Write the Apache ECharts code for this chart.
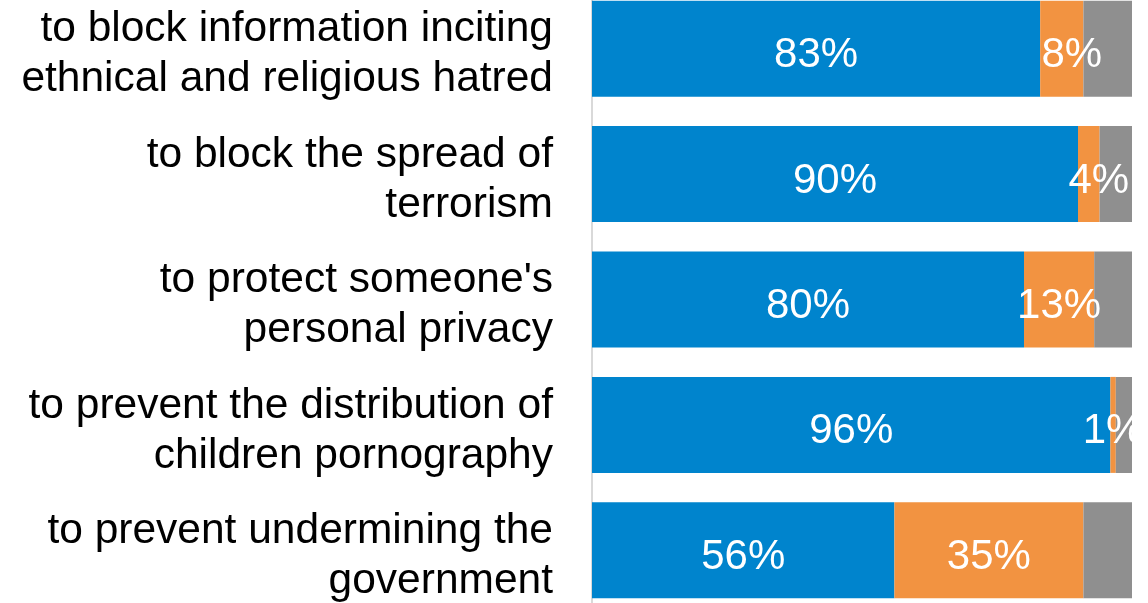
<!DOCTYPE html>
<html>
<head>
<meta charset="utf-8">
<script src="https://cdn.jsdelivr.net/npm/echarts@6/dist/echarts.min.js"></script>
<style>
html,body{margin:0;padding:0;background:#fff;overflow:hidden;width:1148px;height:603px;}
#chart{position:absolute;left:0;top:-14px;width:1148px;height:627px;}
</style>
</head>
<body>
<div id="chart"></div>
<script>
const categories = [
  "to block information inciting\nethnical and religious hatred",
  "to block the spread of\nterrorism",
  "to protect someone's\npersonal privacy",
  "to prevent the distribution of\nchildren pornography",
  "to prevent undermining the\ngovernment"
];
const blueValues = [83, 90, 80, 96, 56];
const orangeValues = [8, 4, 13, 1, 35];
const grayValues = [9, 6, 7, 3, 9];

const chart = echarts.init(document.getElementById('chart'), null, {renderer: 'canvas'});
const FONT = 'Liberation Sans, Arial, sans-serif';
const labelFont = {color: '#fff', fontSize: 42, fontFamily: FONT};

const orangeData = orangeValues.map(function (v) {
  const item = {value: v};
  if (v > 2 && v < 10) item.label = {offset: [10, 7]};
  return item;
});

const catStyle = {color: '#000', fontSize: 42.5, lineHeight: 50, fontFamily: FONT, align: 'right', padding: [12, 0, 0, 0]};

chart.setOption({
  animation: false,
  grid: {left: 592, right: 16, top: 0, bottom: 0, containLabel: false},
  xAxis: {type: 'value', min: 0, max: 100, show: false},
  yAxis: {
    type: 'category', data: categories, inverse: true,
    axisLine: {show: true, lineStyle: {color: '#d9d9d9', width: 2}},
    axisTick: {show: false},
    axisLabel: {
      color: '#000', fontSize: 42.5, lineHeight: 50, align: 'right', margin: 39,
      fontFamily: FONT,
      formatter: function (v) {
        return v.split('\n').map(function (l) { return '{a|' + l + '}'; }).join('\n');
      },
      rich: {a: catStyle}
    }
  },
  series: [
    {type: 'bar', stack: 't', data: blueValues, barWidth: 96,
     itemStyle: {color: '#0084cd'},
     label: Object.assign({show: true, position: 'inside', formatter: '{c}%', offset: [0, 7]}, labelFont)},
    {type: 'bar', stack: 't', data: orangeData, barWidth: 96,
     itemStyle: {color: '#f29341'},
     label: Object.assign({show: true, position: 'inside', formatter: '{c}%', offset: [0, 7]}, labelFont)},
    {type: 'bar', stack: 't', data: grayValues, barWidth: 96,
     itemStyle: {color: '#8f8f8f'},
     label: {show: false}}
  ]
});
</script>
</body>
</html>
